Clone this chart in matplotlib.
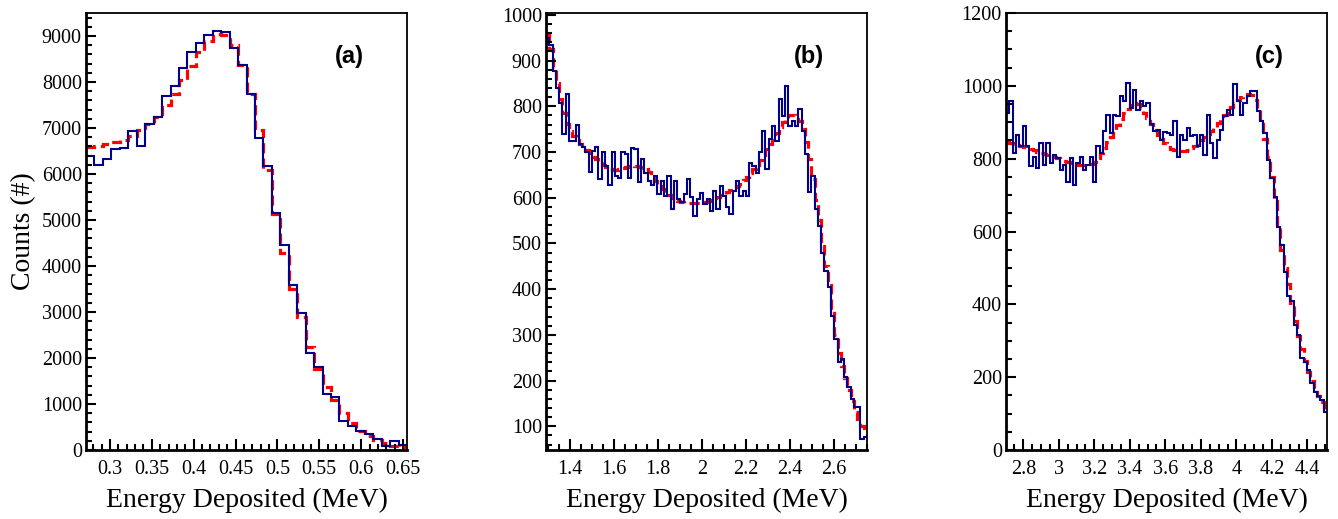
import numpy as np
import matplotlib
matplotlib.use("Agg")
import matplotlib.pyplot as plt
from matplotlib.ticker import MultipleLocator, FuncFormatter

plt.rcParams['font.family'] = ['Liberation Serif', 'DejaVu Serif']

# (a) spectrum, 38 bins
a_range = (0.2714, 0.6548)
a_data = [6390, 6200, 6330, 6536, 6558, 6942, 6616, 7080, 7232, 7696,
          7913, 8304, 8659, 8840, 9022, 9109, 9080, 8746, 8362, 7732,
          6775, 6181, 5145, 4460, 3587, 2986, 2116, 1797, 1217, 1145,
          638, 529, 420, 348, 232, 87, 203, 109]
a_sim = [6594, 6616, 6660, 6690, 6740, 6830, 6960, 7080, 7230, 7500,
         7750, 8050, 8350, 8650, 8900, 9050, 9030, 8800, 8380, 7750,
         6950, 6080, 5130, 4280, 3493, 2900, 2232, 1754, 1377, 1087,
         797, 594, 420, 304, 217, 145, 90, 58]

# (b) spectrum
b_range = (1.291, 2.7515)
b_data = [950, 935, 877, 840, 808, 739, 826, 724, 724, 760,
          717, 710, 699, 657, 702, 710, 641, 699, 670, 627,
          699, 648, 644, 699, 695, 644, 708, 706, 634, 684,
          655, 637, 627, 648, 608, 637, 604, 648, 575, 637,
          597, 590, 608, 641, 601, 561, 597, 611, 586, 597,
          571, 615, 575, 626, 604, 579, 565, 615, 637, 604,
          615, 604, 677, 670, 655, 699, 746, 662, 728, 757,
          724, 815, 779, 844, 757, 768, 757, 793, 746, 695,
          612, 648, 575, 539, 480, 440, 404, 342, 291, 240,
          248, 208, 186, 160, 142, 142, 73, 77]
b_sim = [958, 925, 885, 850, 815, 785, 762, 745, 735, 727,
         718, 712, 705, 698, 690, 684, 678, 672, 667, 663,
         660, 660, 662, 664, 667, 670, 672, 670, 667, 664,
         662, 656, 646, 636, 626, 618, 611, 605, 600, 596,
         593, 591, 589, 588, 588, 588, 588, 589, 591, 593,
         596, 599, 602, 605, 608, 612, 616, 620, 625, 631,
         638, 645, 653, 662, 672, 683, 694, 706, 718, 730,
         742, 754, 765, 774, 780, 782, 778, 768, 750, 722,
         685, 640, 595, 552, 495, 450, 410, 355, 300, 260,
         232, 205, 180, 155, 132, 115, 100, 92]

# (c) spectrum
c_range = (2.7024, 4.5107)
c_data = [926, 958, 816, 866, 834, 889, 834, 779, 806, 774,
          843, 783, 843, 788, 811, 802, 770, 783, 737, 802,
          728, 788, 806, 770, 783, 806, 737, 834, 816, 875,
          921, 871, 921, 917, 972, 958, 1007, 940, 990, 935,
          958, 944, 954, 894, 875, 880, 852, 873, 871, 866,
          903, 806, 866, 852, 885, 862, 866, 834, 866, 811,
          921, 843, 802, 852, 880, 917, 935, 921, 1004, 958,
          921, 954, 972, 986, 986, 931, 903, 871, 797, 747,
          696, 613, 563, 490, 422, 408, 344, 316, 252, 243,
          220, 183, 160, 147, 138, 105]
c_sim = [846, 843, 840, 838, 836, 833, 830, 827, 823, 819,
         816, 813, 810, 807, 804, 801, 798, 795, 792, 789,
         786, 784, 783, 782, 783, 786, 792, 802, 815, 830,
         845, 860, 875, 893, 910, 925, 937, 947, 953, 950,
         940, 926, 911, 896, 880, 866, 853, 842, 833, 827,
         823, 821, 820, 821, 824, 829, 836, 843, 851, 859,
         868, 877, 887, 897, 908, 919, 930, 941, 952, 962,
         970, 976, 978, 974, 962, 936, 900, 855, 805, 750,
         685, 615, 550, 500, 455, 405, 355, 312, 278, 245,
         215, 190, 168, 148, 132, 112]

panels = [
    ("(a)", a_range, a_data, a_sim, (0, 9500), 0.05, 0.01, 1000, 200),
    ("(b)", b_range, b_data, b_sim, (48, 1004), 0.2, 0.05, 100, 20),
    ("(c)", c_range, c_data, c_sim, (0, 1200), 0.2, 0.05, 200, 50),
]

fig = plt.figure(figsize=(13.38, 5.19), dpi=100)
lefts = [0.0643, 0.4081, 0.7519]
fmt = FuncFormatter(lambda v, p: "%g" % round(v, 6))

for left, (tag, rng, data, sim, ylim, xmaj, xmin_, ymaj, ymin_) in zip(lefts, panels):
    ax = fig.add_axes([left, 0.1329, 0.2399, 0.842])
    edges = np.linspace(rng[0], rng[1], len(data) + 1)
    ax.stairs(sim, edges, baseline=None, color='#ff0000', lw=2.3,
              linestyle=(0, (3.2, 1.6)))
    ax.stairs(data, edges, baseline=None, color='#00008b', lw=1.5)
    ax.set_xlim(*rng)
    ax.set_ylim(*ylim)

    ax.xaxis.set_major_locator(MultipleLocator(xmaj))
    ax.xaxis.set_minor_locator(MultipleLocator(xmin_))
    ax.yaxis.set_major_locator(MultipleLocator(ymaj))
    ax.yaxis.set_minor_locator(MultipleLocator(ymin_))
    ax.xaxis.set_major_formatter(fmt)
    ax.yaxis.set_major_formatter(fmt)
    ax.tick_params(which='both', direction='in', top=False, right=False,
                   labelsize=14.5, width=1.5)
    ax.tick_params(axis='x', which='major', length=8, pad=7)
    ax.tick_params(axis='x', which='minor', length=4.5)
    ax.tick_params(axis='y', which='major', length=7, pad=3)
    ax.tick_params(axis='y', which='minor', length=4)
    for s in ['left', 'bottom']:
        ax.spines[s].set_linewidth(2)
    for s in ['top', 'right']:
        ax.spines[s].set_linewidth(1.3)

    ax.set_xlabel("Energy Deposited (MeV)", fontsize=20)
    ax.xaxis.set_label_coords(0.5, -0.087)
    ax.xaxis.label.set_va('top')
    ax.text(0.82, 0.9, tag, transform=ax.transAxes, fontsize=17,
            fontweight='bold', family=['Liberation Sans', 'DejaVu Sans'],
            ha='center', va='center')
    if tag == "(a)":
        ax.set_ylabel("Counts (#)", fontsize=20)
        ax.yaxis.set_label_coords(-0.155, 0.5)

fig.savefig("out.png", dpi=100)
